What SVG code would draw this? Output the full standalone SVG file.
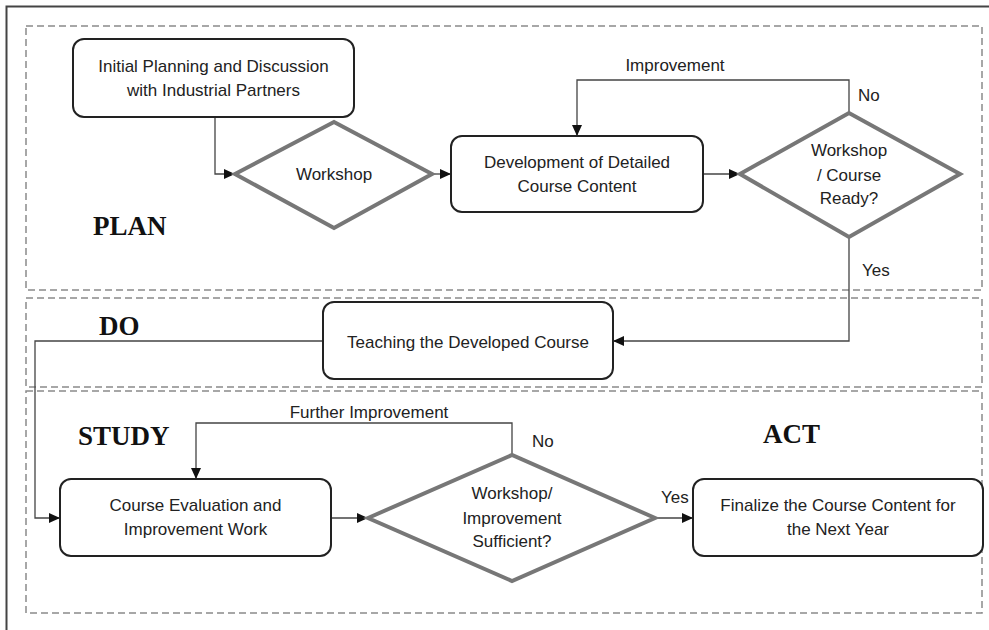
<svg xmlns="http://www.w3.org/2000/svg" width="989" height="630" viewBox="0 0 989 630">
<defs>
<marker id="ah" markerWidth="12" markerHeight="10" refX="11" refY="5" orient="auto" markerUnits="userSpaceOnUse">
<path d="M0,0 L11,5 L0,10 Z" fill="#111"/>
</marker>
<style>
.box{fill:#fff;stroke:#222;stroke-width:2}
.dia{fill:#fff;stroke:#777;stroke-width:4;stroke-linejoin:miter}
.zone{fill:none;stroke:#8a8a8a;stroke-width:1.5;stroke-dasharray:7 4}
.con{fill:none;stroke:#444;stroke-width:1.3}
.t{font-family:"Liberation Sans",Arial,sans-serif;font-size:17px;fill:#222;text-anchor:middle}
.l{font-family:"Liberation Sans",Arial,sans-serif;font-size:17px;fill:#222}
.h{font-family:"Liberation Serif","Times New Roman",serif;font-size:27px;font-weight:bold;fill:#111}
</style>
</defs>
<rect width="989" height="630" fill="#fff"/>
<path d="M6.5,630 V6.5 H989" fill="none" stroke="#444" stroke-width="2"/>
<g id="zones">
<rect class="zone" x="26" y="26" width="956" height="264"/>
<rect class="zone" x="26" y="298" width="956" height="89"/>
<rect class="zone" x="26" y="391" width="956" height="222"/>
<text class="h" x="93" y="235">PLAN</text>
<text class="h" x="99" y="335">DO</text>
<text class="h" x="78" y="445">STUDY</text>
<text class="h" x="763" y="443">ACT</text>
</g>
<g id="connectors">
<path class="con" d="M215,117 V174 H235" marker-end="url(#ah)"/>
<path class="con" d="M432,174 H451" marker-end="url(#ah)"/>
<path class="con" d="M703,174 H740" marker-end="url(#ah)"/>
<path class="con" d="M849,113 V80 H577 V136" marker-end="url(#ah)"/>
<path class="con" d="M849,237 V341 H613" marker-end="url(#ah)"/>
<path class="con" d="M323,341 H35 V518 H60" marker-end="url(#ah)"/>
<path class="con" d="M331,518 H368" marker-end="url(#ah)"/>
<path class="con" d="M512,455 V423 H196 V479" marker-end="url(#ah)"/>
<path class="con" d="M655,518 H693" marker-end="url(#ah)"/>
<text class="t" x="675" y="71">Improvement</text>
<text class="l" x="858" y="101">No</text>
<text class="l" x="862" y="276">Yes</text>
<text class="t" x="369" y="418">Further Improvement</text>
<text class="l" x="532" y="447">No</text>
<text class="l" x="661" y="503">Yes</text>
</g>
<g id="initial">
<rect class="box" x="73" y="39" width="281" height="78" rx="11"/>
<text class="t" x="213.5" y="72">Initial Planning and Discussion</text>
<text class="t" x="213.5" y="96">with Industrial Partners</text>
</g>
<g id="workshop">
<polygon class="dia" points="235,174 334,122 432,174 334,228"/>
<text class="t" x="334" y="180">Workshop</text>
</g>
<g id="development">
<rect class="box" x="451" y="136" width="252" height="76" rx="11"/>
<text class="t" x="577" y="168">Development of Detailed</text>
<text class="t" x="577" y="192">Course Content</text>
</g>
<g id="ready">
<polygon class="dia" points="740,174 849,113 960,174 849,237"/>
<text class="t" x="849" y="156">Workshop</text>
<text class="t" x="849" y="181">/ Course</text>
<text class="t" x="849" y="204">Ready?</text>
</g>
<g id="teaching">
<rect class="box" x="323" y="302" width="290" height="77" rx="11"/>
<text class="t" x="468" y="348">Teaching the Developed Course</text>
</g>
<g id="evaluation">
<rect class="box" x="60" y="479" width="271" height="77" rx="11"/>
<text class="t" x="195.5" y="511">Course Evaluation and</text>
<text class="t" x="195.5" y="535">Improvement Work</text>
</g>
<g id="sufficient">
<polygon class="dia" points="368,518 512,455 655,518 512,581"/>
<text class="t" x="512" y="499">Workshop/</text>
<text class="t" x="512" y="524">Improvement</text>
<text class="t" x="512" y="547">Sufficient?</text>
</g>
<g id="finalize">
<rect class="box" x="693" y="479" width="290" height="77" rx="11"/>
<text class="t" x="838" y="511">Finalize the Course Content for</text>
<text class="t" x="838" y="535">the Next Year</text>
</g>
</svg>
